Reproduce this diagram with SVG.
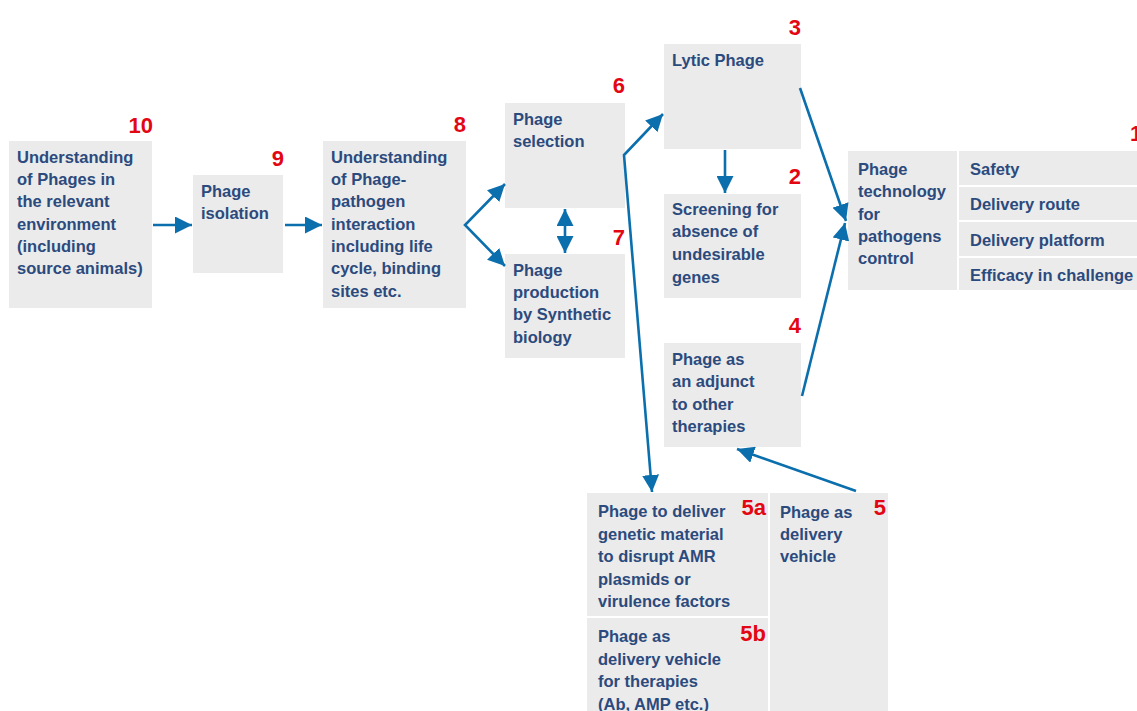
<svg xmlns="http://www.w3.org/2000/svg" width="1137" height="711" viewBox="0 0 1137 711">
<style>
.box{fill:#ebebeb}
.t{font-family:"Liberation Sans",Arial,sans-serif;font-weight:bold;font-size:16.5px;fill:#2b4a7d}
.n{font-family:"Liberation Sans",Arial,sans-serif;font-weight:bold;font-size:22px;fill:#e30613;text-anchor:end}
.c{stroke:#0b6fad;stroke-width:2.6;fill:none}
</style>
<defs>
<marker id="ah" viewBox="0 0 10 10" refX="10" refY="5" markerWidth="17" markerHeight="17" markerUnits="userSpaceOnUse" orient="auto-start-reverse">
<path d="M0,0 L10,5 L0,10 z" fill="#0b6fad"/>
</marker>
</defs>
<rect width="1137" height="711" fill="#ffffff"/>
<g id="n10"><rect class="box" x="9" y="141" width="143" height="167"/>
<text class="n" x="153" y="133">10</text>
<text class="t" x="17" y="163">Understanding</text><text class="t" x="17" y="185">of Phages in</text><text class="t" x="17" y="207">the relevant</text><text class="t" x="17" y="230">environment</text><text class="t" x="17" y="252">(including</text><text class="t" x="17" y="274">source animals)</text></g>
<g id="n9"><rect class="box" x="193" y="175" width="90" height="98"/>
<text class="n" x="284" y="166">9</text>
<text class="t" x="201" y="197">Phage</text><text class="t" x="201" y="219">isolation</text></g>
<g id="n8"><rect class="box" x="323" y="141" width="143" height="167"/>
<text class="n" x="466" y="132">8</text>
<text class="t" x="331" y="163">Understanding</text><text class="t" x="331" y="185">of Phage-</text><text class="t" x="331" y="207">pathogen</text><text class="t" x="331" y="230">interaction</text><text class="t" x="331" y="252">including life</text><text class="t" x="331" y="274">cycle, binding</text><text class="t" x="331" y="297">sites etc.</text></g>
<g id="n6"><rect class="box" x="505" y="103" width="120" height="105"/>
<text class="n" x="625" y="93">6</text>
<text class="t" x="513" y="125">Phage</text><text class="t" x="513" y="147">selection</text></g>
<g id="n7"><rect class="box" x="505" y="254" width="120" height="104"/>
<text class="n" x="625" y="245">7</text>
<text class="t" x="513" y="276">Phage</text><text class="t" x="513" y="298">production</text><text class="t" x="513" y="320">by Synthetic</text><text class="t" x="513" y="343">biology</text></g>
<g id="n3"><rect class="box" x="664" y="44" width="137" height="105"/>
<text class="n" x="801" y="35">3</text>
<text class="t" x="672" y="66">Lytic Phage</text></g>
<g id="n2"><rect class="box" x="664" y="194" width="137" height="104"/>
<text class="n" x="801" y="184">2</text>
<text class="t" x="672" y="215">Screening for</text><text class="t" x="672" y="237">absence of</text><text class="t" x="672" y="260">undesirable</text><text class="t" x="672" y="283">genes</text></g>
<g id="n4"><rect class="box" x="664" y="343" width="137" height="104"/>
<text class="n" x="801" y="333">4</text>
<text class="t" x="672" y="365">Phage as</text><text class="t" x="672" y="387">an adjunct</text><text class="t" x="672" y="410">to other</text><text class="t" x="672" y="432">therapies</text></g>
<g id="n1"><rect class="box" x="848" y="151" width="109" height="139"/>
<rect class="box" x="959" y="151" width="178" height="34"/>
<rect class="box" x="959" y="187" width="178" height="33"/>
<rect class="box" x="959" y="222" width="178" height="34"/>
<rect class="box" x="959" y="258" width="178" height="32"/>
<text class="n" x="1130" y="141" style="text-anchor:start">1</text>
<text class="t" x="858" y="175">Phage</text><text class="t" x="858" y="197">technology</text><text class="t" x="858" y="220">for</text><text class="t" x="858" y="242">pathogens</text><text class="t" x="858" y="264">control</text>
<text class="t" x="970" y="175">Safety</text><text class="t" x="970" y="210">Delivery route</text><text class="t" x="970" y="246">Delivery platform</text><text class="t" x="970" y="281">Efficacy in challenge</text></g>
<g id="n5a"><rect class="box" x="587" y="493" width="181" height="123"/>
<text class="n" x="766" y="515">5a</text>
<text class="t" x="598" y="517">Phage to deliver</text><text class="t" x="598" y="540">genetic material</text><text class="t" x="598" y="562">to disrupt AMR</text><text class="t" x="598" y="585">plasmids or</text><text class="t" x="598" y="607">virulence factors</text></g>
<g id="n5b"><rect class="box" x="587" y="618" width="181" height="93"/>
<text class="n" x="766" y="641">5b</text>
<text class="t" x="598" y="642">Phage as</text><text class="t" x="598" y="665">delivery vehicle</text><text class="t" x="598" y="687">for therapies</text><text class="t" x="598" y="710">(Ab, AMP etc.)</text></g>
<g id="n5"><rect class="box" x="770" y="493" width="118" height="218"/>
<text class="n" x="886" y="515">5</text>
<text class="t" x="780" y="518">Phage as</text><text class="t" x="780" y="540">delivery</text><text class="t" x="780" y="562">vehicle</text></g>
<g id="connectors">
<line class="c" x1="153" y1="225" x2="192" y2="225" marker-end="url(#ah)"/>
<line class="c" x1="285" y1="225" x2="322" y2="225" marker-end="url(#ah)"/>
<polyline class="c" points="505,184 465,225 505,266" marker-start="url(#ah)" marker-end="url(#ah)"/>
<line class="c" x1="565" y1="209" x2="565" y2="253" marker-start="url(#ah)" marker-end="url(#ah)"/>
<polyline class="c" points="663,114 624,155 652,492" marker-start="url(#ah)" marker-end="url(#ah)"/>
<line class="c" x1="725" y1="150" x2="725" y2="193" marker-end="url(#ah)"/>
<line class="c" x1="800" y1="88" x2="846" y2="221" marker-end="url(#ah)"/>
<line class="c" x1="802" y1="396" x2="845" y2="223" marker-end="url(#ah)"/>
<line class="c" x1="856" y1="491" x2="737" y2="449" marker-end="url(#ah)"/>
</g>
</svg>
